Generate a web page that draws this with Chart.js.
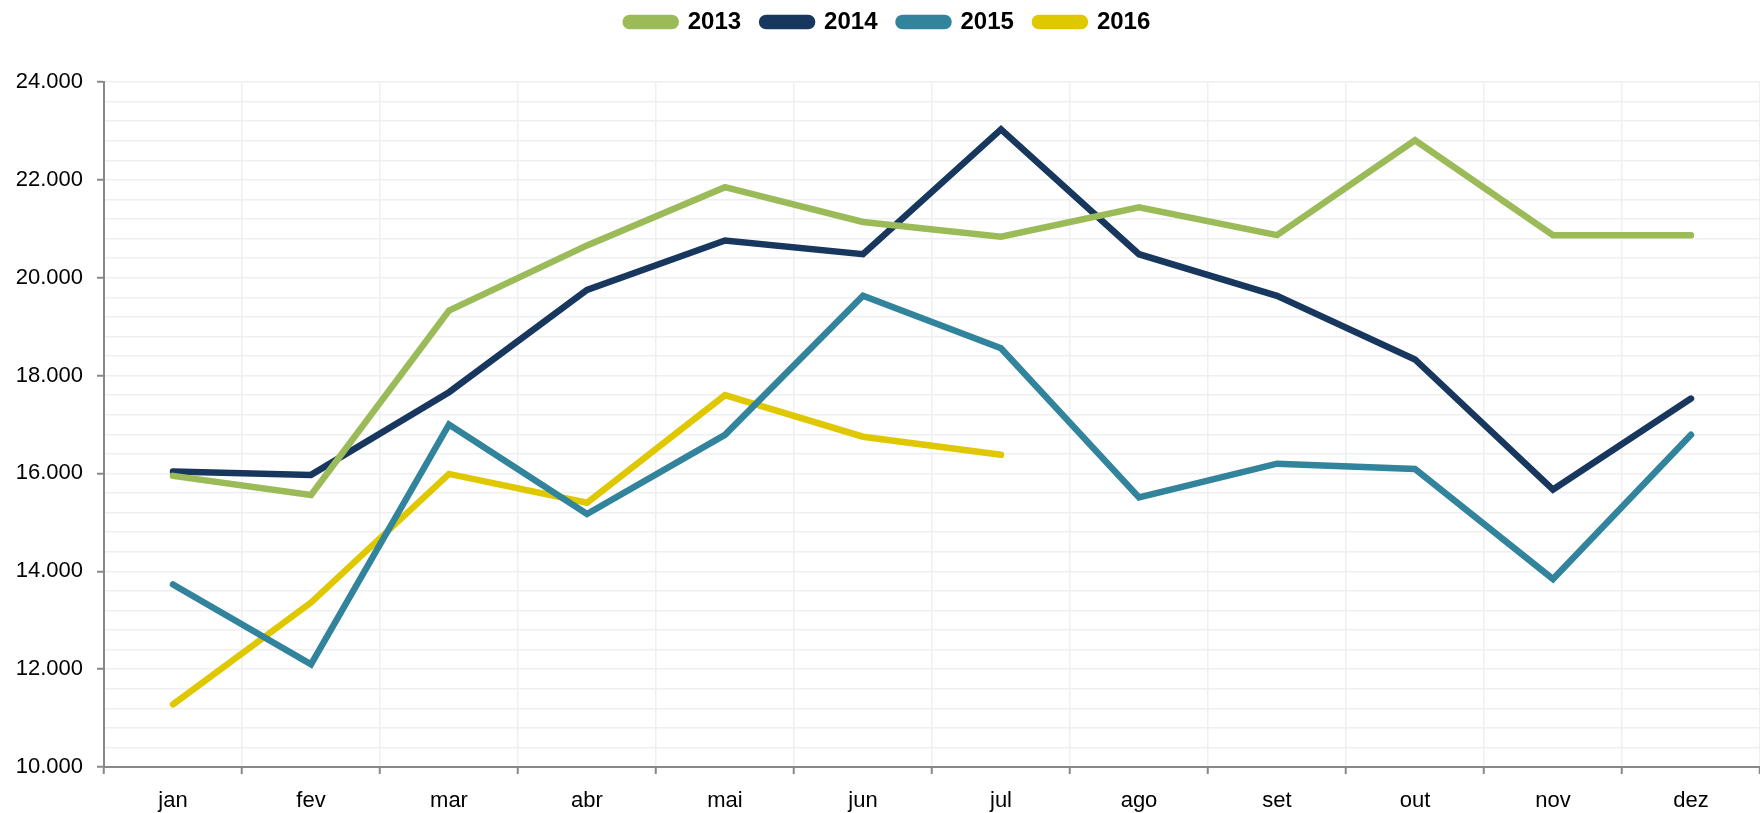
<!DOCTYPE html>
<html>
<head>
<meta charset="utf-8">
<script src="https://cdn.jsdelivr.net/npm/chart.js@4/dist/chart.umd.min.js"></script>
<style>
  html, body { margin: 0; padding: 0; background: #fff; }
  #wrap { width: 1760px; height: 813px; }
</style>
</head>
<body>
<div id="wrap"><canvas id="grafico"></canvas></div>
<script>
// --- dados ---
const meses = ["jan", "fev", "mar", "abr", "mai", "jun", "jul", "ago", "set", "out", "nov", "dez"];
const serie2013 = [15950, 15560, 19330, 20660, 21850, 21140, 20840, 21440, 20870, 22810, 20870, 20870];
const serie2014 = [16040, 15970, 17660, 19750, 20760, 20480, 23030, 20480, 19630, 18330, 15670, 17530];
const serie2015 = [13730, 12100, 17000, 15170, 16790, 19630, 18560, 15510, 16200, 16090, 13840, 16790];
const serie2016 = [11280, 13360, 15990, 15400, 17600, 16750, 16380];
const eixoY = { min: 10000, max: 24000, passo: 400, rotulo: 2000 };

function formatarMilhar(v) {
  return String(v).replace(/\B(?=(\d{3})+(?!\d))/g, ".");
}

function serie(label, datos, cor) {
  return {
    label: label,
    data: datos,
    borderColor: cor,
    backgroundColor: cor,
    borderWidth: 6.5,
    borderCapStyle: "round",
    borderJoinStyle: "miter",
    pointRadius: 0,
    pointHoverRadius: 0,
    fill: false,
    tension: 0
  };
}

// legenda: mais espaço embaixo e um pouco mais para cima
const ajusteLegenda = {
  id: "ajusteLegenda",
  beforeInit(chart) {
    const leg = chart.legend;
    const fitOriginal = leg.fit;
    leg.fit = function () {
      fitOriginal.apply(leg, arguments);
      leg.height += 27;
    };
    const drawOriginal = leg.draw;
    leg.draw = function () {
      const c = leg.ctx;
      c.save();
      c.translate(8, -11);
      drawOriginal.apply(leg, arguments);
      c.restore();
    };
  }
};

const ctx = document.getElementById("grafico").getContext("2d");
new Chart(ctx, {
  type: "line",
  data: {
    labels: meses,
    datasets: [
      serie("2013", serie2013, "#9BBB59"),
      serie("2014", serie2014, "#17375E"),
      serie("2015", serie2015, "#31849B"),
      serie("2016", serie2016, "#E0C800")
    ]
  },
  plugins: [ajusteLegenda],
  options: {
    responsive: true,
    maintainAspectRatio: false,
    animation: false,
    layout: { padding: 0 },
    plugins: {
      tooltip: { enabled: false },
      legend: {
        position: "top",
        labels: {
          font: { family: "'Liberation Sans', Arial, sans-serif", size: 24, weight: "bold" },
          color: "#000",
          boxWidth: 50,
          boxHeight: 8,
          useBorderRadius: true,
          borderRadius: 4,
          padding: 21
        }
      }
    },
    scales: {
      x: {
        offset: true,
        grid: {
          offset: true,
          color: "#efefef",
          lineWidth: 1.5,
          tickColor: "#888",
          tickLength: 7,
          tickWidth: 2
        },
        border: { color: "#888", width: 2 },
        ticks: {
          color: "#000",
          font: { family: "'Liberation Sans', Arial, sans-serif", size: 22 },
          padding: 14,
          maxRotation: 0
        },
        afterFit: (scale) => { scale.height = 46; }
      },
      y: {
        min: eixoY.min,
        max: eixoY.max,
        grid: {
          color: "#efefef",
          lineWidth: 1.5,
          tickLength: 7,
          tickWidth: 2,
          tickColor: (c) => (c.tick && c.tick.value % eixoY.rotulo === 0) ? "#888" : "rgba(0,0,0,0)"
        },
        border: { color: "#888", width: 2 },
        ticks: {
          stepSize: eixoY.passo,
          autoSkip: false,
          color: "#000",
          font: { family: "'Liberation Sans', Arial, sans-serif", size: 22 },
          padding: 14,
          callback: (v) => v % eixoY.rotulo === 0 ? formatarMilhar(v) : ""
        },
        afterFit: (scale) => { scale.width = 104; }
      }
    }
  }
});
</script>
</body>
</html>
